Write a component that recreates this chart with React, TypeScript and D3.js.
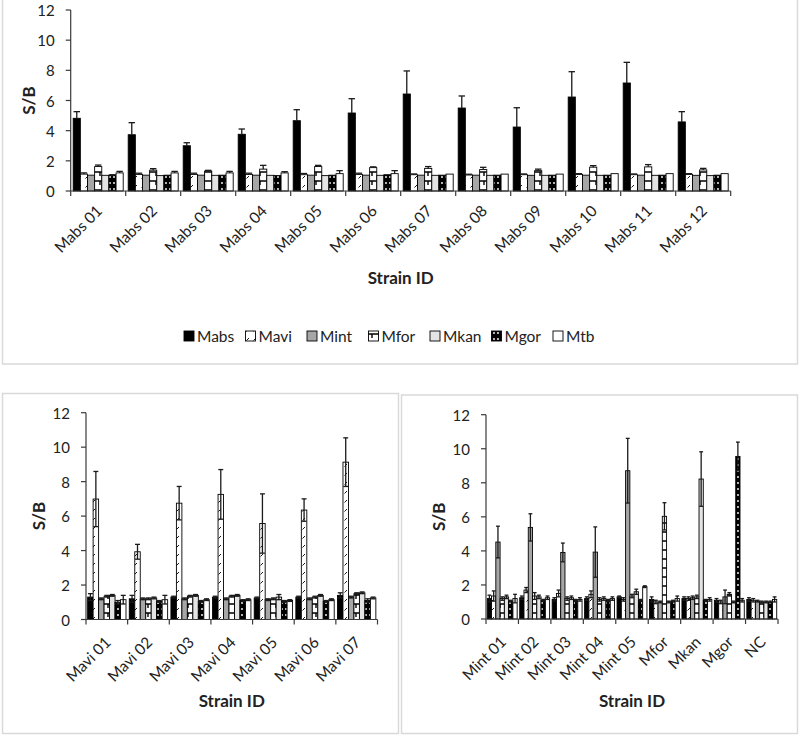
import React from "react";
import * as d3 from "d3";

const SERIES = ["Mabs", "Mavi", "Mint", "Mfor", "Mkan", "Mgor", "Mtb"];
const Y_TICKS = [0, 2, 4, 6, 8, 10, 12];

// ---------- Top panel (Mabs strains) ----------
const topCats = ["Mabs 01", "Mabs 02", "Mabs 03", "Mabs 04", "Mabs 05", "Mabs 06", "Mabs 07", "Mabs 08", "Mabs 09", "Mabs 10", "Mabs 11", "Mabs 12"];
const topMabs = [4.82, 3.73, 3.0, 3.76, 4.66, 5.17, 6.43, 5.5, 4.24, 6.23, 7.16, 4.58];
const topMabsErr = [0.44, 0.8, 0.2, 0.35, 0.73, 0.95, 1.53, 0.8, 1.28, 1.68, 1.37, 0.68];
const topMavi = [1.12, 1.1, 1.1, 1.1, 1.08, 1.1, 1.08, 1.06, 1.08, 1.1, 1.08, 1.1];
const topMaviErr = [0.08, 0.08, 0.08, 0.08, 0.08, 0.08, 0.05, 0.05, 0.05, 0.05, 0.05, 0.05];
const topMint = [1.05, 1.05, 1.05, 1.05, 1.05, 1.05, 1.05, 1.05, 1.04, 1.05, 1.05, 1.04];
const topMintErr = [0, 0, 0, 0, 0, 0, 0, 0, 0, 0, 0, 0];
const topMfor = [1.62, 1.38, 1.32, 1.45, 1.62, 1.55, 1.5, 1.42, 1.35, 1.58, 1.6, 1.4];
const topMforErr = [0.1, 0.1, 0.05, 0.25, 0.08, 0.05, 0.12, 0.15, 0.1, 0.1, 0.15, 0.1];
const topMkan = [1.04, 1.02, 1.04, 1.04, 1.02, 1.04, 1.04, 1.04, 1.04, 1.04, 1.04, 1.02];
const topMkanErr = [0, 0, 0, 0, 0, 0, 0, 0, 0, 0, 0, 0];
const topMgor = [1.05, 1.05, 1.05, 1.02, 1.05, 1.08, 1.05, 1.05, 1.05, 1.05, 1.05, 1.05];
const topMgorErr = [0.03, 0, 0, 0, 0, 0, 0, 0, 0, 0, 0, 0];
const topMtb = [1.2, 1.2, 1.2, 1.2, 1.15, 1.15, 1.12, 1.12, 1.12, 1.15, 1.15, 1.15];
const topMtbErr = [0.1, 0.1, 0.1, 0.08, 0.2, 0.2, 0, 0, 0, 0, 0, 0];

// ---------- Bottom-left panel (Mavi strains) ----------
const blCats = ["Mavi 01", "Mavi 02", "Mavi 03", "Mavi 04", "Mavi 05", "Mavi 06", "Mavi 07"];
const blMabs = [1.3, 1.2, 1.3, 1.3, 1.25, 1.3, 1.4];
const blMabsErr = [0.2, 0.2, 0.05, 0.05, 0.05, 0.05, 0.15];
const blMavi = [6.99, 3.93, 6.75, 7.26, 5.57, 6.35, 9.13];
const blMaviErr = [1.6, 0.43, 0.97, 1.44, 1.72, 0.65, 1.41];
const blMint = [1.2, 1.2, 1.2, 1.2, 1.15, 1.2, 1.3];
const blMintErr = [0.05, 0.05, 0.05, 0.05, 0.05, 0.05, 0.05];
const blMfor = [1.35, 1.2, 1.35, 1.35, 1.2, 1.3, 1.5];
const blMforErr = [0.05, 0.05, 0.05, 0.05, 0.05, 0.05, 0.05];
const blMkan = [1.4, 1.25, 1.4, 1.4, 1.3, 1.4, 1.55];
const blMkanErr = [0.05, 0.05, 0.05, 0.05, 0.15, 0.05, 0.05];
const blMgor = [1.0, 1.05, 1.05, 1.1, 1.05, 1.05, 1.1];
const blMgorErr = [0.1, 0.05, 0.05, 0.05, 0.05, 0.05, 0.1];
const blMtb = [1.15, 1.15, 1.15, 1.15, 1.1, 1.15, 1.25];
const blMtbErr = [0.25, 0.25, 0.05, 0.05, 0.05, 0.05, 0.05];

// ---------- Bottom-right panel (Mint strains & references) ----------
const brCats = ["Mint 01", "Mint 02", "Mint 03", "Mint 04", "Mint 05", "Mfor", "Mkan", "Mgor", "NC"];
const brMabs = [1.2, 1.25, 1.15, 1.2, 1.3, 1.15, 1.2, 1.1, 1.15];
const brMabsErr = [0.2, 0.1, 0.1, 0.1, 0.05, 0.15, 0.1, 0.1, 0.1];
const brMavi = [1.35, 1.7, 1.5, 1.45, 1.15, 1.0, 1.2, 1.0, 1.1];
const brMaviErr = [0.3, 0.15, 0.2, 0.2, 0.1, 0.1, 0.1, 0.1, 0.1];
const brMint = [4.52, 5.38, 3.91, 3.93, 8.71, 1.0, 1.25, 1.3, 1.05];
const brMintErr = [0.93, 0.8, 0.55, 1.48, 1.9, 0.05, 0.1, 0.4, 0.05];
const brMfor = [1.2, 1.35, 1.2, 1.15, 1.35, 6.03, 1.3, 1.45, 1.0];
const brMforErr = [0.1, 0.2, 0.1, 0.1, 0.1, 0.8, 0.1, 0.1, 0.05];
const brMkan = [1.3, 1.3, 1.25, 1.2, 1.6, 1.0, 8.22, 1.0, 1.0];
const brMkanErr = [0.1, 0.1, 0.1, 0.1, 0.15, 0.05, 1.6, 0.05, 0.05];
const brMgor = [1.05, 1.1, 1.1, 1.1, 1.1, 1.05, 1.1, 9.55, 1.0];
const brMgorErr = [0.05, 0.05, 0.05, 0.05, 0.05, 0.05, 0.05, 0.84, 0.05];
const brMtb = [1.2, 1.25, 1.15, 1.2, 1.9, 1.2, 1.15, 1.1, 1.15];
const brMtbErr = [0.25, 0.1, 0.1, 0.1, 0.05, 0.15, 0.1, 0.1, 0.15];

const FILLS: Record<string, string> = {
  Mabs: "#000000",
  Mavi: "url(#pMavi)",
  Mint: "#a6a6a6",
  Mfor: "url(#pMfor)",
  Mkan: "#e4e4e4",
  Mgor: "url(#pMgor)",
  Mtb: "#ffffff",
};

const FONT = "Lato, 'Open Sans', sans-serif";
const AXIS_COLOR = "#3a3a3a";

type PanelProps = {
  cats: string[];
  values: number[][];
  errs: number[][];
  xLeft: number;
  xRight: number;
  yZero: number;
  yTop: number;
  pad: number;
  symmetric: boolean;
  labelSize: number;
  labelDy: number;
  yTitleX: number;
  titleY: number;
};

function Panel(p: PanelProps) {
  const x = d3.scaleBand<string>().domain(p.cats).range([p.xLeft, p.xRight]).padding(0);
  const xs = d3
    .scaleBand<string>()
    .domain(SERIES)
    .range([0, x.bandwidth()])
    .paddingInner(0)
    .paddingOuter(p.pad);
  const y = d3.scaleLinear().domain([0, 12]).range([p.yZero, p.yTop]);
  const bw = xs.bandwidth();
  const capW = bw * 0.9;
  const boundaries = p.cats.map((c) => x(c)!).concat([p.xRight]);

  return (
    <g>
      {SERIES.map((s, si) =>
        p.cats.map((c, ci) => {
          const v = p.values[si][ci];
          const bx = x(c)! + xs(s)!;
          return (
            <rect
              key={s + c}
              x={bx}
              y={y(v)}
              width={bw}
              height={y(0) - y(v)}
              fill={FILLS[s]}
              stroke="#000"
              strokeWidth={0.9}
            />
          );
        })
      )}
      {SERIES.map((s, si) =>
        p.cats.map((c, ci) => {
          const v = p.values[si][ci];
          const e = p.errs[si][ci];
          if (!e) return null;
          const cx = x(c)! + xs(s)! + bw / 2;
          const lo = p.symmetric ? v - e : v;
          return (
            <g key={"e" + s + c} stroke="#1a1a1a" strokeWidth={1.3}>
              <line x1={cx} x2={cx} y1={y(lo)} y2={y(v + e)} />
              <line x1={cx - capW / 2} x2={cx + capW / 2} y1={y(v + e)} y2={y(v + e)} />
              {p.symmetric && (
                <line x1={cx - capW / 2} x2={cx + capW / 2} y1={y(lo)} y2={y(lo)} />
              )}
            </g>
          );
        })
      )}
      <line x1={p.xLeft} x2={p.xLeft} y1={y(0)} y2={y(12)} stroke={AXIS_COLOR} strokeWidth={1.2} />
      {Y_TICKS.map((t) => (
        <g key={"yt" + t}>
          <line x1={p.xLeft - 5} x2={p.xLeft} y1={y(t)} y2={y(t)} stroke={AXIS_COLOR} strokeWidth={1.2} />
          <text
            x={p.xLeft - 16}
            y={y(t)}
            textAnchor="end"
            dominantBaseline="central"
            fontFamily={FONT}
            fontSize={15}
            fill="#222"
          >
            {t}
          </text>
        </g>
      ))}
      <line x1={p.xLeft} x2={p.xRight} y1={y(0)} y2={y(0)} stroke={AXIS_COLOR} strokeWidth={1.2} />
      {boundaries.map((bx, i) => (
        <line key={"xt" + i} x1={bx} x2={bx} y1={y(0)} y2={y(0) + 5} stroke={AXIS_COLOR} strokeWidth={1.2} />
      ))}
      {p.cats.map((c) => {
        const cx = x(c)! + x.bandwidth() / 2 + 5;
        const cy = y(0) + p.labelDy;
        return (
          <text
            key={"xl" + c}
            transform={`translate(${cx},${cy}) rotate(-45)`}
            textAnchor="end"
            fontFamily={FONT}
            fontSize={p.labelSize}
            fill="#222"
          >
            {c}
          </text>
        );
      })}
      <text
        transform={`translate(${p.yTitleX},${(y(0) + y(12)) / 2}) rotate(-90)`}
        textAnchor="middle"
        dominantBaseline="central"
        fontFamily={FONT}
        fontWeight="bold"
        fontSize={17}
        fill="#222"
      >
        S/B
      </text>
      <text
        x={(p.xLeft + p.xRight) / 2}
        y={p.titleY}
        textAnchor="middle"
        dominantBaseline="central"
        fontFamily={FONT}
        fontWeight="bold"
        fontSize={17}
        fill="#222"
      >
        Strain ID
      </text>
    </g>
  );
}

function Legend() {
  const lx = d3.scalePoint<string>().domain(SERIES).range([184, 553]);
  return (
    <g>
      {SERIES.map((s) => (
        <g key={"lg" + s}>
          <rect x={lx(s)!} y={331} width={10} height={10} fill={FILLS[s]} stroke="#000" strokeWidth={0.9} />
          <text x={lx(s)! + 13} y={336} dominantBaseline="central" fontFamily={FONT} fontSize={15.5} fill="#222">
            {s}
          </text>
        </g>
      ))}
    </g>
  );
}

export default function App() {
  return (
    <svg
      width={800}
      height={736}
      style={{ position: "absolute", left: 0, top: 0, background: "#fff" }}
    >
      <defs>
        <pattern id="pMavi" patternUnits="userSpaceOnUse" width={7} height={9}>
          <rect width={7} height={9} fill="#fff" />
          <path d="M1.5,7.5 L4,5" stroke="#000" strokeWidth={0.9} />
        </pattern>
        <pattern id="pMfor" patternUnits="userSpaceOnUse" width={8} height={9}>
          <rect width={8} height={9} fill="#fff" />
          <path d="M0,1 H8 M4,1 V5" stroke="#000" strokeWidth={1.4} />
        </pattern>
        <pattern id="pMgor" patternUnits="userSpaceOnUse" width={4} height={6}>
          <rect width={4} height={6} fill="#000" />
          <circle cx={2} cy={3} r={0.95} fill="#fff" />
        </pattern>
      </defs>
      <rect x={0} y={0} width={800} height={736} fill="#fff" />
      <rect x={2.5} y={-2} width={795} height={366} fill="none" stroke="#d9d9d9" strokeWidth={1.5} />
      <rect x={2.5} y={393.5} width={396} height={340} fill="none" stroke="#d9d9d9" strokeWidth={1.5} />
      <rect x={401.5} y={395} width={396} height={338.5} fill="none" stroke="#d9d9d9" strokeWidth={1.5} />

      <Panel
        cats={topCats}
        values={[topMabs, topMavi, topMint, topMfor, topMkan, topMgor, topMtb]}
        errs={[topMabsErr, topMaviErr, topMintErr, topMforErr, topMkanErr, topMgorErr, topMtbErr]}
        xLeft={70.7}
        xRight={730.7}
        yZero={191}
        yTop={10}
        pad={0.35}
        symmetric={false}
        labelSize={15.5}
        labelDy={21}
        yTitleX={28}
        titleY={277}
      />
      <Legend />
      <Panel
        cats={blCats}
        values={[blMabs, blMavi, blMint, blMfor, blMkan, blMgor, blMtb]}
        errs={[blMabsErr, blMaviErr, blMintErr, blMforErr, blMkanErr, blMgorErr, blMtbErr]}
        xLeft={86}
        xRight={377.5}
        yZero={619.5}
        yTop={412.7}
        pad={0.3}
        symmetric={true}
        labelSize={15.5}
        labelDy={24}
        yTitleX={38}
        titleY={700}
      />
      <Panel
        cats={brCats}
        values={[brMabs, brMavi, brMint, brMfor, brMkan, brMgor, brMtb]}
        errs={[brMabsErr, brMaviErr, brMintErr, brMforErr, brMkanErr, brMgorErr, brMtbErr]}
        xLeft={486}
        xRight={778}
        yZero={619}
        yTop={414.7}
        pad={0.3}
        symmetric={true}
        labelSize={15.5}
        labelDy={24}
        yTitleX={438}
        titleY={700}
      />
    </svg>
  );
}
